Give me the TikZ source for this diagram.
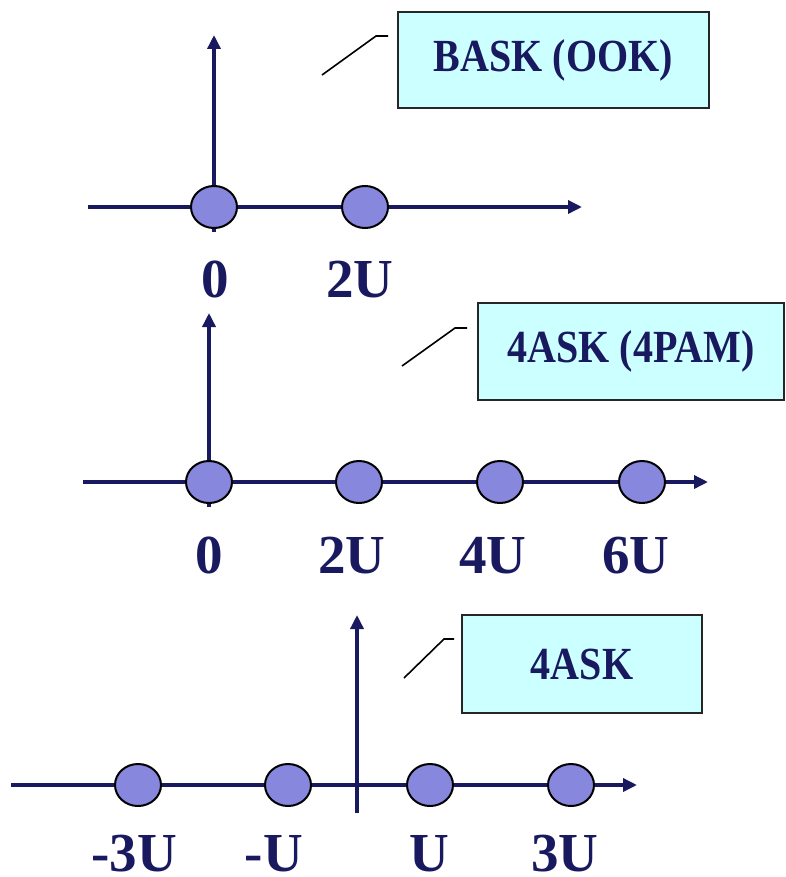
\documentclass[tikz,border=0pt]{standalone}
\usepackage{fontspec}
\setmainfont{Liberation Serif}
\newfontfamily\boxfnt{Liberation Serif}[FakeStretch=0.87]
\usetikzlibrary{arrows.meta,shapes.geometric}
\definecolor{navy}{HTML}{19195F}
\definecolor{ptfill}{HTML}{8787DE}
\definecolor{boxfill}{HTML}{CCFFFF}
\tikzset{
  axisline/.style={draw=navy,line width=3.4pt},
  tipped/.style={-{Triangle[length=14pt,width=13pt]}},
  ptnode/.style={ellipse,draw=black,fill=ptfill,line width=2pt,minimum width=46pt,minimum height=42pt,inner sep=0pt},
  lbl/.style={text=navy,anchor=base,inner sep=0pt,font=\fontsize{55}{60}\selectfont\bfseries},
  tagbox/.style={draw=black!85,fill=boxfill,line width=2.2pt,text=navy,inner sep=0pt,font=\boxfnt\fontsize{46}{50}\selectfont\bfseries},
  leader/.style={draw=black,line width=1.6pt}
}
\begin{document}
\begin{tikzpicture}[x=1pt,y=-1pt]
\useasboundingbox (0,0) rectangle (785,877);
% ---------- diagram 1 ----------
\coordinate (v1b) at (214,232); \coordinate (v1t) at (214,35);
\coordinate (h1l) at (88,207);  \coordinate (h1r) at (582,207);
\draw[axisline,tipped] (v1b) -- (v1t);
\draw[axisline,tipped] (h1l) -- (h1r);
\node[ptnode] (p10) at (214,207) {};
\node[ptnode] (p11) at (365,207) {};
\node[lbl] (l10) at (215,297) {0};
\node[lbl] (l11) at (360,297) {2U};
\node[tagbox,minimum width=311pt,minimum height=96pt] (b1) at (553.5,60) {BASK (OOK)};
\coordinate (c1a) at (322,75); \coordinate (c1b) at (376,36); \coordinate (c1c) at (388,36);
\draw[leader] (c1a) -- (c1b) -- (c1c);
% ---------- diagram 2 ----------
\coordinate (v2b) at (209,507); \coordinate (v2t) at (209,313);
\coordinate (h2l) at (83,482);  \coordinate (h2r) at (708,482);
\draw[axisline,tipped] (v2b) -- (v2t);
\draw[axisline,tipped] (h2l) -- (h2r);
\node[ptnode] (p20) at (209,482) {};
\node[ptnode] (p21) at (359,482) {};
\node[ptnode] (p22) at (500,482) {};
\node[ptnode] (p23) at (642,482) {};
\node[lbl] (l20) at (209,573) {0};
\node[lbl] (l21) at (352,573) {2U};
\node[lbl] (l22) at (493,573) {4U};
\node[lbl] (l23) at (636,573) {6U};
\node[tagbox,minimum width=306pt,minimum height=97pt] (b2) at (631,351.5) {4ASK (4PAM)};
\coordinate (c2a) at (402,366); \coordinate (c2b) at (455,328); \coordinate (c2c) at (467,328);
\draw[leader] (c2a) -- (c2b) -- (c2c);
% ---------- diagram 3 ----------
\coordinate (v3b) at (357,813); \coordinate (v3t) at (357,615);
\coordinate (h3l) at (11,785);  \coordinate (h3r) at (637,785);
\draw[axisline,tipped] (v3b) -- (v3t);
\draw[axisline,tipped] (h3l) -- (h3r);
\node[ptnode] (p30) at (138,785) {};
\node[ptnode] (p31) at (288,785) {};
\node[ptnode] (p32) at (430,785) {};
\node[ptnode] (p33) at (571,785) {};
\node[lbl] (l30) at (134,871) {-3U};
\node[lbl] (l31) at (274,871) {-U};
\node[lbl] (l32) at (429,871) {U};
\node[lbl] (l33) at (565,871) {3U};
\node[tagbox,minimum width=240pt,minimum height=98pt] (b3) at (582,664) {4ASK};
\coordinate (c3a) at (404,678); \coordinate (c3b) at (444,639); \coordinate (c3c) at (454,639);
\draw[leader] (c3a) -- (c3b) -- (c3c);
\end{tikzpicture}
\end{document}
